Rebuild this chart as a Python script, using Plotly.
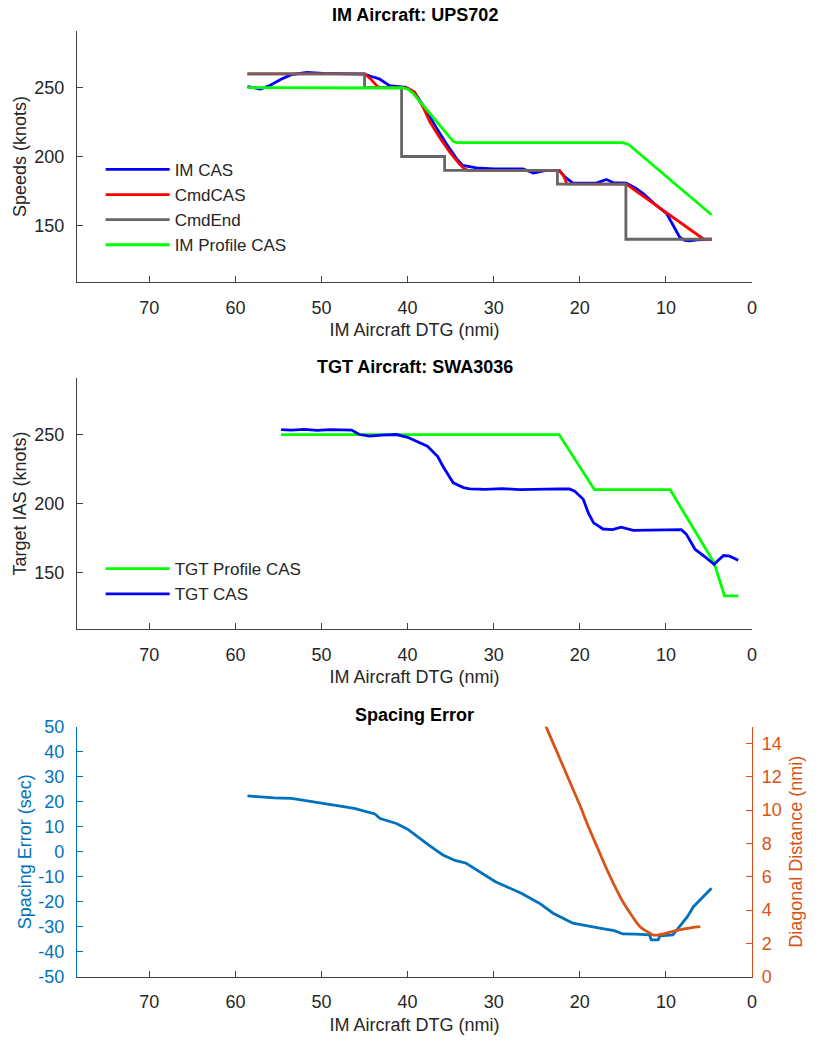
import plotly.graph_objects as go

# ---------------- Top panel: IM Aircraft ----------------
im_cas_x = [58.6, 57.8, 57.1, 56.0, 54.7, 53.5, 51.7, 49.8, 47.5, 45.5, 45.0, 44.2, 43.3, 42.1, 40.9, 40.2,
            39.2, 38.5, 37.8, 36.7, 35.5, 34.3, 33.6, 32.0, 30.0, 28.0, 26.6, 25.4, 23.9, 22.4, 21.7, 20.8,
            19.5, 18.1, 16.9, 16.1, 14.6, 13.5, 12.6, 11.1, 9.9, 9.1, 8.4, 7.8, 7.2, 6.4, 5.5, 4.7]
im_cas_y = [250.7, 249.5, 249.0, 251.5, 256.0, 259.4, 261.0, 260.3, 260.0, 260.0, 259.8, 258.0, 256.3, 251.4,
            250.5, 250.2, 246.6, 240.0, 233.0, 221.2, 209.2, 198.3, 193.5, 191.8, 191.0, 191.0, 191.1, 188.0,
            190.0, 190.0, 185.0, 180.7, 180.5, 180.7, 183.3, 181.0, 180.7, 177.0, 173.0, 164.5, 158.5, 148.8,
            141.5, 139.1, 138.8, 139.6, 140.0, 140.0]

cmd_cas_x = [58.6, 45.0, 44.3, 43.5, 43.0, 40.5, 39.9, 39.2, 38.2, 37.4, 36.3, 35.1, 34.0, 33.4, 33.0,
             22.4, 21.9, 21.5, 14.6, 5.6, 4.7]
cmd_cas_y = [260, 260, 256.3, 250.7, 250, 250, 249.2, 246.6, 235.7, 224.9, 214.0, 203.1, 194.7, 191.1, 190,
             190, 186.2, 180.2, 180, 140, 140]

cmd_end_x = [58.6, 45.0, 40.7, 35.7, 22.6, 14.65, 4.7]
cmd_end_y = [260, 250, 200, 190, 180, 140, 140]

im_prof_x = [58.6, 41.2, 40.5, 39.9, 39.3, 34.7, 34.3, 15.0, 14.3, 4.7]
im_prof_y = [250, 250, 249.7, 248.6, 245.3, 211, 210, 210, 208.5, 157.8]

# ---------------- Middle panel: TGT Aircraft ----------------
tgt_prof_x = [54.7, 22.4, 18.3, 9.5, 7.2, 4.4, 3.2, 1.6]
tgt_prof_y = [250, 250, 210, 210, 186, 157, 133, 133]

tgt_cas_x = [54.7, 53.5, 52.0, 50.5, 49.0, 47.5, 46.5, 45.6, 44.4, 43.0, 41.3, 40.0, 38.5, 37.7, 36.5, 35.9,
             35.2, 34.7, 33.5, 32.8, 31.0, 29.0, 27.0, 25.0, 23.5, 22.3, 21.2, 20.6, 19.6, 19.0, 18.4, 17.3,
             16.2, 15.2, 13.8, 12.0, 10.0, 8.2, 7.6, 6.6, 5.3, 4.4, 3.8, 3.3, 2.6, 1.6]
tgt_cas_y = [253.6, 253.2, 253.8, 253.0, 253.5, 253.0, 253.2, 250.0, 248.8, 249.5, 250.0, 248.0, 244.0, 241.5,
             234.0, 227.0, 220.0, 215.0, 211.5, 210.6, 210.2, 210.8, 210.0, 210.4, 210.8, 210.6, 210.5, 209.0,
             203.0, 193.0, 186.0, 181.5, 181.0, 182.8, 180.5, 180.8, 181.2, 181.0, 177.5, 166.7, 160.6, 155.8,
             159.5, 162.3, 161.8, 158.9]

# ---------------- Bottom panel: Spacing Error ----------------
sp_err_x = [58.6, 57.7, 55.5, 53.5, 51.5, 49.8, 48.0, 46.2, 44.5, 43.8, 43.2, 41.3, 40.0, 38.9, 37.5, 35.9,
            34.5, 33.2, 31.5, 29.8, 28.3, 26.8, 24.7, 23.1, 20.8, 19.0, 17.7, 16.0, 15.0, 13.5, 11.9, 11.7,
            10.9, 10.7, 9.2, 8.4, 7.5, 6.8, 5.8, 4.7]
sp_err_y = [22.3, 22.0, 21.5, 21.3, 20.3, 19.3, 18.3, 17.3, 15.8, 15.1, 13.3, 11.3, 9.0, 6.0, 2.5, -1.3,
            -3.5, -4.6, -8.2, -12.0, -14.3, -16.6, -20.6, -24.6, -28.6, -29.6, -30.6, -31.6, -32.9, -33.0,
            -33.3, -35.3, -35.3, -33.7, -33.3, -29.9, -26.0, -22.0, -18.5, -14.6]

diag_x = [24.0, 23.0, 22.0, 21.0, 20.0, 19.0, 18.0, 17.0, 16.0, 15.0, 14.0, 13.0, 12.0, 11.5, 11.0, 10.0,
          9.0, 8.0, 7.0, 6.0]
diag_y = [15.1, 13.9, 12.7, 11.5, 10.3, 9.0, 7.8, 6.6, 5.5, 4.5, 3.7, 3.0, 2.65, 2.5, 2.5, 2.6, 2.75, 2.85,
          2.95, 3.0]

x_ticks = [70, 60, 50, 40, 30, 20, 10, 0]
speed_ticks = [150, 200, 250]
err_ticks = [-50, -40, -30, -20, -10, 0, 10, 20, 30, 40, 50]
dist_ticks = [0, 2, 4, 6, 8, 10, 12, 14]

FONT = "Liberation Sans, Arial, sans-serif"
FS = 18
LFS = 17
AX = "#404040"
TXT = "#262626"
BLUE = "#0000ff"
RED = "#ff0000"
GRAY = "#666666"
GREEN = "#00ff00"
MBLUE = "#0072BD"
MORANGE = "#D95319"
LW = 2.8

fig = go.Figure()
# top
fig.add_trace(go.Scatter(x=im_cas_x, y=im_cas_y, mode="lines", name="IM CAS",
                         line=dict(color=BLUE, width=LW), xaxis="x", yaxis="y", legend="legend"))
fig.add_trace(go.Scatter(x=cmd_cas_x, y=cmd_cas_y, mode="lines", name="CmdCAS",
                         line=dict(color=RED, width=LW), xaxis="x", yaxis="y", legend="legend"))
fig.add_trace(go.Scatter(x=cmd_end_x, y=cmd_end_y, mode="lines", name="CmdEnd",
                         line=dict(color=GRAY, width=LW, shape="hv"), xaxis="x", yaxis="y", legend="legend"))
fig.add_trace(go.Scatter(x=im_prof_x, y=im_prof_y, mode="lines", name="IM Profile CAS",
                         line=dict(color=GREEN, width=LW), xaxis="x", yaxis="y", legend="legend"))
# middle
fig.add_trace(go.Scatter(x=tgt_prof_x, y=tgt_prof_y, mode="lines", name="TGT Profile CAS",
                         line=dict(color=GREEN, width=LW), xaxis="x2", yaxis="y2", legend="legend2"))
fig.add_trace(go.Scatter(x=tgt_cas_x, y=tgt_cas_y, mode="lines", name="TGT CAS",
                         line=dict(color=BLUE, width=LW), xaxis="x2", yaxis="y2", legend="legend2"))
# bottom
fig.add_trace(go.Scatter(x=sp_err_x, y=sp_err_y, mode="lines", name="Spacing Error",
                         line=dict(color=MBLUE, width=LW), xaxis="x3", yaxis="y3", showlegend=False))
fig.add_trace(go.Scatter(x=diag_x, y=diag_y, mode="lines", name="Diagonal Distance",
                         line=dict(color=MORANGE, width=LW, shape="spline", smoothing=0.8),
                         xaxis="x3", yaxis="y4", showlegend=False))


def xax(anchor):
    return dict(anchor=anchor, domain=[0, 1], range=[78.4, 0], tickvals=x_ticks, automargin=False,
                showline=True, linecolor=AX, linewidth=1.3, ticks="inside", ticklen=6, tickcolor=AX,
                tickwidth=1.3, showgrid=False, zeroline=False, ticklabelstandoff=9,
                tickfont=dict(family=FONT, size=FS, color=TXT),
                title=dict(text="IM Aircraft DTG (nmi)", font=dict(family=FONT, size=FS, color=TXT), standoff=6))


def yax(anchor, dom, title):
    return dict(anchor=anchor, domain=dom, range=[109, 291], tickvals=speed_ticks, automargin=False,
                showline=True, linecolor=AX, linewidth=1.3, ticks="inside", ticklen=6, tickcolor=AX,
                tickwidth=1.3, showgrid=False, zeroline=False, ticklabelstandoff=8,
                tickfont=dict(family=FONT, size=FS, color=TXT),
                title=dict(text=title, font=dict(family=FONT, size=FS, color=TXT), standoff=2))


fig.update_layout(
    template="none",
    width=817, height=1041,
    margin=dict(l=77, r=65, t=10, b=10, autoexpand=False),
    paper_bgcolor="white", plot_bgcolor="white",
    font=dict(family=FONT, size=FS, color=TXT),
    xaxis=xax("y"),
    yaxis=yax("x", [0.7336, 0.9794], "Speeds (knots)"),
    xaxis2=xax("y2"),
    yaxis2=yax("x2", [0.3937, 0.6396], "Target IAS (knots)"),
    xaxis3=xax("y3"),
    yaxis3=dict(anchor="x3", domain=[0.0532, 0.2980], range=[-50, 50], tickvals=err_ticks,
                ticktext=[str(v) for v in err_ticks], automargin=False,
                showline=True, linecolor=MBLUE, linewidth=1.3, ticks="inside", ticklen=6, tickcolor=MBLUE,
                tickwidth=1.3, showgrid=False, zeroline=False, ticklabelstandoff=8,
                tickfont=dict(family=FONT, size=FS, color=MBLUE),
                title=dict(text="Spacing Error (sec)", font=dict(family=FONT, size=FS, color=MBLUE), standoff=1)),
    yaxis4=dict(anchor="x3", overlaying="y3", side="right", range=[0, 15], tickvals=dist_ticks,
                automargin=False,
                showline=True, linecolor=MORANGE, linewidth=1.3, ticks="inside", ticklen=6, tickcolor=MORANGE,
                tickwidth=1.3, showgrid=False, zeroline=False, ticklabelstandoff=5,
                tickfont=dict(family=FONT, size=FS, color=MORANGE),
                title=dict(text="Diagonal Distance (nmi)", font=dict(family=FONT, size=FS, color=MORANGE),
                           standoff=8)),
    legend=dict(x=0.035, y=0.861, xanchor="left", yanchor="top", bgcolor="rgba(0,0,0,0)",
                font=dict(family=FONT, size=LFS, color=TXT), itemwidth=64, tracegroupgap=0),
    legend2=dict(x=0.035, y=0.470, xanchor="left", yanchor="top", bgcolor="rgba(0,0,0,0)",
                 font=dict(family=FONT, size=LFS, color=TXT), itemwidth=64, tracegroupgap=0),
    showlegend=True,
    annotations=[
        dict(text="<b>IM Aircraft: UPS702</b>", xref="paper", yref="paper", x=0.5, y=(1031 - 15) / 1021,
             xanchor="center", yanchor="middle", showarrow=False, font=dict(family=FONT, size=FS, color="black")),
        dict(text="<b>TGT Aircraft: SWA3036</b>", xref="paper", yref="paper", x=0.5, y=(1031 - 367) / 1021,
             xanchor="center", yanchor="middle", showarrow=False, font=dict(family=FONT, size=FS, color="black")),
        dict(text="<b>Spacing Error</b>", xref="paper", yref="paper", x=0.5, y=(1031 - 715) / 1021,
             xanchor="center", yanchor="middle", showarrow=False, font=dict(family=FONT, size=FS, color="black")),
    ],
)

fig.write_html("out.html", config={"displayModeBar": False},
               post_script="document.body.style.margin='0';")
